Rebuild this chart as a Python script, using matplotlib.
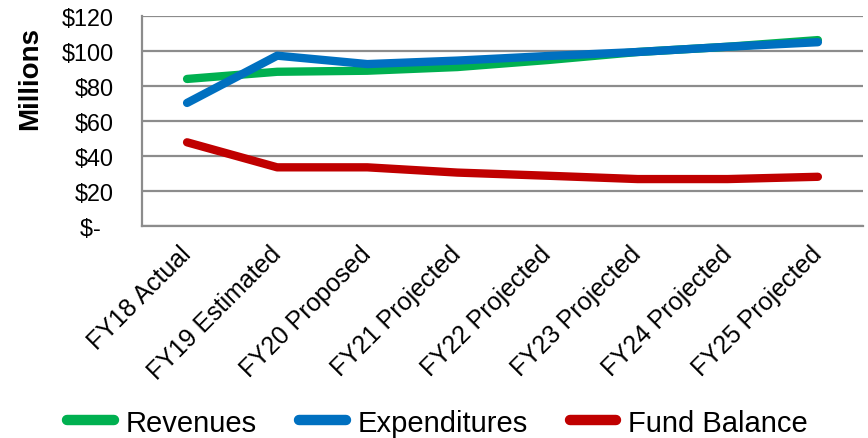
import matplotlib.pyplot as plt
from matplotlib.ticker import FixedLocator

plt.rcParams['font.family'] = ['Liberation Sans', 'DejaVu Sans']

years = ['FY18 Actual', 'FY19 Estimated', 'FY20 Proposed', 'FY21 Projected',
         'FY22 Projected', 'FY23 Projected', 'FY24 Projected', 'FY25 Projected']
revenues = [84.2, 88.3, 88.9, 91.0, 95.0, 99.6, 102.6, 106.4]
expenditures = [70.5, 97.5, 92.7, 94.7, 97.3, 99.6, 102.6, 105.2]
fund_balance = [48.0, 33.7, 33.7, 30.7, 28.9, 27.0, 27.0, 28.3]

y_ticks = [0, 20, 40, 60, 80, 100, 120]
y_labels = ['$-  ', '$20', '$40', '$60', '$80', '$100', '$120']

fig = plt.figure(figsize=(8.68, 4.39), dpi=100)
ax = fig.add_axes([0.1636, 0.4822, 0.8306, 0.4784])

x = list(range(len(years)))
lw = 6.0
ax.plot(x, revenues, color='#00B050', lw=lw, solid_capstyle='round',
        solid_joinstyle='round', label='Revenues', zorder=3)
ax.plot(x, expenditures, color='#0070C0', lw=lw, solid_capstyle='round',
        solid_joinstyle='round', label='Expenditures', zorder=4)
ax.plot(x, fund_balance, color='#C00000', lw=lw, solid_capstyle='round',
        solid_joinstyle='round', label='Fund Balance', zorder=3)

ax.set_xlim(-0.5, len(years) - 0.5)
ax.set_ylim(0, 120)
ax.yaxis.set_major_locator(FixedLocator(y_ticks))
ax.set_yticklabels(y_labels, fontsize=16.8)
ax.set_xticks(x)
ax.set_xticklabels(years, fontsize=18, rotation=45, ha='right', va='center',
                   rotation_mode='anchor')
ax.tick_params(axis='y', length=0, pad=20)
ax.tick_params(axis='x', length=0, pad=17)

ax.grid(True, axis='y', color='#8c8c8c', lw=1.6)
ax.set_axisbelow(True)
for s in ['top', 'right']:
    ax.spines[s].set_visible(False)
for s in ['left', 'bottom']:
    ax.spines[s].set_color('#8c8c8c')
    ax.spines[s].set_linewidth(1.6)

ax.set_ylabel('Millions', fontsize=20, fontweight='bold')
ax.yaxis.set_label_coords(-0.137, 0.71)

leg = fig.legend(loc='center', bbox_to_anchor=(0.504, 0.035), ncol=3, frameon=False,
                 fontsize=21, handlelength=1.6, handletextpad=0.4,
                 columnspacing=1.45, borderaxespad=0)
for h in leg.get_lines():
    h.set_linewidth(7.5)

fig.savefig('out.png', dpi=100)
